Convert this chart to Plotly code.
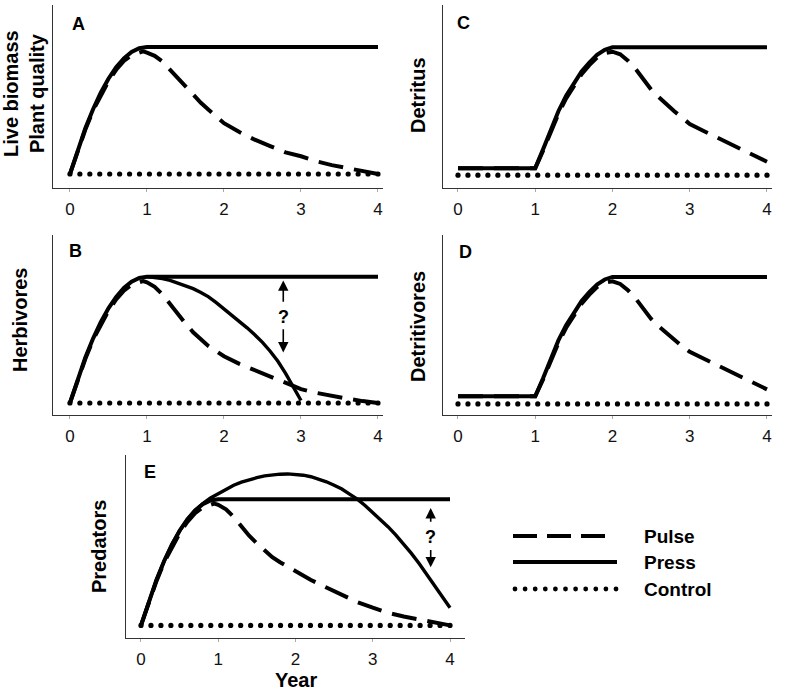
import numpy as np
import plotly.graph_objects as go

W, H = 787, 693
FONT = "Arial, 'Liberation Sans', Helvetica, sans-serif"

# ---------------- data ----------------
rise_years = [0, 0.1, 0.2, 0.3, 0.4, 0.5, 0.6, 0.7, 0.8, 0.9, 1.0]

# Panel A: Live biomass / Plant quality
a_press_years = rise_years + [4.0]
a_press_vals = [0, 0.19, 0.36, 0.51, 0.64, 0.75, 0.84, 0.91, 0.96, 0.99, 1.0, 1.0]
a_pulse_years = [0, 0.1, 0.2, 0.3, 0.4, 0.5, 0.6, 0.7, 0.8, 0.9, 0.95, 1.0, 1.1, 1.2, 1.3, 1.4, 1.5,
                 1.6, 1.7, 1.8, 1.9, 2.0, 2.2, 2.4, 2.6, 2.8, 3.0, 3.2, 3.4, 3.6, 3.8, 4.0]
a_pulse_vals = [0, 0.18, 0.35, 0.5, 0.62, 0.73, 0.82, 0.89, 0.935, 0.96, 0.965, 0.955, 0.93, 0.885,
                0.82, 0.75, 0.68, 0.62, 0.56, 0.505, 0.45, 0.40, 0.33, 0.27, 0.22, 0.17, 0.14, 0.10,
                0.07, 0.045, 0.02, 0.0]

# Panel B: Herbivores
b_press_years = a_press_years
b_press_vals = a_press_vals
b_pulse_years = a_pulse_years
b_pulse_vals = [0, 0.18, 0.35, 0.5, 0.62, 0.73, 0.82, 0.89, 0.935, 0.96, 0.965, 0.955, 0.92, 0.86,
                0.78, 0.70, 0.63, 0.56, 0.50, 0.45, 0.41, 0.37, 0.31, 0.26, 0.21, 0.16, 0.11, 0.08,
                0.055, 0.035, 0.015, 0.0]
b_alt_years = [1.0, 1.1, 1.2, 1.3, 1.4, 1.5, 1.6, 1.7, 1.8, 1.9, 2.0, 2.1, 2.2, 2.3, 2.4, 2.5,
               2.6, 2.7, 2.8, 2.9, 3.0]
b_alt_vals = [1.0, 0.995, 0.985, 0.97, 0.95, 0.93, 0.905, 0.875, 0.84, 0.795, 0.745, 0.70, 0.65,
              0.595, 0.54, 0.48, 0.41, 0.33, 0.235, 0.13, 0.02]

# Panel C: Detritus
c_press_years = [0, 1.0, 1.1, 1.2, 1.3, 1.4, 1.5, 1.6, 1.7, 1.8, 1.9, 2.0, 4.0]
c_press_vals = [0.055, 0.055, 0.2, 0.36, 0.5, 0.62, 0.72, 0.81, 0.88, 0.94, 0.98, 1.0, 1.0]
c_pulse_years = [0, 1.0, 1.1, 1.2, 1.3, 1.4, 1.5, 1.6, 1.7, 1.8, 1.9, 2.0, 2.1, 2.2, 2.3, 2.4,
                 2.5, 2.6, 2.7, 2.8, 2.9, 3.0, 3.2, 3.4, 3.6, 3.8, 4.0]
c_pulse_vals = [0.055, 0.055, 0.19, 0.34, 0.48, 0.6, 0.7, 0.79, 0.86, 0.92, 0.955, 0.965, 0.945,
                0.895, 0.83, 0.75, 0.67, 0.61, 0.55, 0.50, 0.45, 0.40, 0.34, 0.28, 0.22, 0.16, 0.105]

# Panel D: Detritivores
d_press_years = c_press_years
d_press_vals = [0.06, 0.06, 0.2, 0.36, 0.5, 0.62, 0.72, 0.81, 0.88, 0.94, 0.98, 1.0, 1.0]
d_pulse_years = c_pulse_years
d_pulse_vals = [0.06, 0.06, 0.19, 0.34, 0.48, 0.6, 0.7, 0.79, 0.86, 0.92, 0.955, 0.965, 0.945,
                0.895, 0.83, 0.75, 0.67, 0.61, 0.555, 0.505, 0.455, 0.41, 0.35, 0.29, 0.23, 0.17, 0.115]

# Panel E: Predators
e_press_years = a_press_years
e_press_vals = a_press_vals
e_pulse_years = a_pulse_years
e_pulse_vals = [0, 0.18, 0.35, 0.5, 0.62, 0.73, 0.82, 0.89, 0.935, 0.96, 0.965, 0.955, 0.92, 0.86,
                0.78, 0.71, 0.65, 0.59, 0.54, 0.50, 0.465, 0.43, 0.36, 0.30, 0.24, 0.185, 0.14, 0.10,
                0.07, 0.045, 0.02, 0.0]
e_alt_years = [0, 0.1, 0.2, 0.3, 0.4, 0.5, 0.6, 0.7, 0.8, 0.9, 1.0, 1.1, 1.2, 1.3, 1.4, 1.5, 1.6,
               1.7, 1.8, 1.9, 2.0, 2.1, 2.2, 2.3, 2.4, 2.5, 2.6, 2.7, 2.8, 2.9, 3.0, 3.1, 3.2,
               3.3, 3.4, 3.5, 3.6, 3.7, 3.8, 3.9, 4.0]
e_alt_vals = [0, 0.19, 0.36, 0.51, 0.64, 0.75, 0.84, 0.91, 0.965, 1.01, 1.045, 1.08, 1.11, 1.135,
              1.155, 1.17, 1.185, 1.193, 1.198, 1.20, 1.198, 1.19, 1.178, 1.16, 1.138, 1.11, 1.08,
              1.04, 1.0, 0.95, 0.895, 0.84, 0.78, 0.715, 0.645, 0.57, 0.49, 0.405, 0.32, 0.23, 0.14]

# Control (unchanged baseline)
control_years = [0, 4]
control_vals = [0, 0]

tick_years = [0, 1, 2, 3, 4]
tick_labels = ["0", "1", "2", "3", "4"]

panel_letters = ["A", "C", "B", "D", "E"]
panel_titles = ["Live biomass<br>Plant quality", "Detritus", "Herbivores", "Detritivores", "Predators"]
legend_names = ["Pulse", "Press", "Control"]

# ---------------- layout geometry (pixels) ----------------
panels = [
    dict(px=(53, 383), py=(5, 188), xr=(-0.22, 4.065), yr=(-0.11, 1.33)),    # A
    dict(px=(443, 772), py=(5, 188), xr=(-0.194, 4.065), yr=(-0.10, 1.33)),  # C
    dict(px=(53, 383), py=(235, 415), xr=(-0.22, 4.065), yr=(-0.095, 1.33)), # B
    dict(px=(443, 772), py=(235, 415), xr=(-0.194, 4.065), yr=(-0.087, 1.33)),  # D
    dict(px=(126, 465), py=(455, 638), xr=(-0.194, 4.194), yr=(-0.10, 1.35)),   # E
]

series = [
    (a_press_years, a_press_vals, a_pulse_years, a_pulse_vals, None, None),
    (c_press_years, c_press_vals, c_pulse_years, c_pulse_vals, None, None),
    (b_press_years, b_press_vals, b_pulse_years, b_pulse_vals, b_alt_years, b_alt_vals),
    (d_press_years, d_press_vals, d_pulse_years, d_pulse_vals, None, None),
    (e_press_years, e_press_vals, e_pulse_years, e_pulse_vals, e_alt_years, e_alt_vals),
]

DASH = "25px,11px"
LW = 4

fig = go.Figure()
layout = dict(
    width=W, height=H, autosize=False,
    margin=dict(l=0, r=0, t=0, b=0),
    paper_bgcolor="white", plot_bgcolor="white",
    showlegend=False,
    font=dict(family=FONT, color="black"),
)
annotations = []
shapes = []

n_dots = 32
for i, (p, s) in enumerate(zip(panels, series)):
    k = "" if i == 0 else str(i + 1)
    xa, ya = "x" + k, "y" + k
    (l, r), (t, b) = p["px"], p["py"]
    layout["xaxis" + k] = dict(
        domain=[l / W, r / W], anchor=ya, range=list(p["xr"]),
        showline=True, linecolor="#333", linewidth=1, mirror=False,
        showgrid=False, zeroline=False,
        tickmode="array", tickvals=tick_years, ticktext=tick_labels,
        ticks="outside", ticklen=3, tickcolor="#aaa", tickwidth=1,
        tickfont=dict(size=17, family=FONT, color="#111"),
        ticklabelstandoff=3, fixedrange=True,
    )
    layout["yaxis" + k] = dict(
        domain=[1 - b / H, 1 - t / H], anchor=xa, range=list(p["yr"]),
        showline=True, linecolor="#333", linewidth=1,
        showgrid=False, zeroline=False, showticklabels=False, ticks="",
        fixedrange=True,
    )
    pry, prv, puy, puv, aly, alv = s
    # control dots
    cx = np.linspace(control_years[0], control_years[-1], n_dots)
    cy = np.interp(cx, control_years, control_vals)
    fig.add_trace(go.Scatter(x=cx, y=cy, mode="markers", xaxis=xa, yaxis=ya,
                             marker=dict(size=5.2, color="black"), hoverinfo="skip"))
    fig.add_trace(go.Scatter(x=puy, y=puv, mode="lines", xaxis=xa, yaxis=ya,
                             line=dict(color="black", width=LW, dash=DASH),
                             hoverinfo="skip"))
    fig.add_trace(go.Scatter(x=pry, y=prv, mode="lines", xaxis=xa, yaxis=ya,
                             line=dict(color="black", width=LW),
                             hoverinfo="skip"))
    if aly is not None:
        fig.add_trace(go.Scatter(x=aly, y=alv, mode="lines", xaxis=xa, yaxis=ya,
                                 line=dict(color="black", width=3.4),
                                 hoverinfo="skip"))

# panel letters
letter_pos = [(78, 24), (463, 23), (75, 251), (465, 252), (150, 472)]
for letter, (x, y) in zip(panel_letters, letter_pos):
    annotations.append(dict(text="<b>%s</b>" % letter, x=x / W, y=1 - y / H, xref="paper", yref="paper",
                            showarrow=False, xanchor="center", yanchor="middle",
                            font=dict(size=18, family=FONT, color="black")))

# y-axis titles
title_pos = [(24, 94), (418, 95), (20, 320), (418, 326), (99, 547)]
for title, (x, y) in zip(panel_titles, title_pos):
    annotations.append(dict(text="<b>%s</b>" % title, x=x / W, y=1 - y / H, xref="paper", yref="paper",
                            showarrow=False, textangle=-90, xanchor="center", yanchor="middle",
                            font=dict(size=20, family=FONT, color="black")))

# x title
annotations.append(dict(text="<b>Year</b>", x=296 / W, y=1 - 680 / H, xref="paper", yref="paper",
                        showarrow=False, xanchor="center", yanchor="middle",
                        font=dict(size=20, family=FONT, color="black")))

# question-mark arrows (B and E)
q_marks = [
    ("x3", "y3", 2.77, (0.97, 0.79), 0.68, (0.595, 0.40)),
    ("x5", "y5", 3.75, (0.93, 0.81), 0.70, (0.61, 0.46)),
]
for xa, ya, xq, (up_head, up_tail), yq, (dn_tail, dn_head) in q_marks:
    annotations.append(dict(x=xq, y=up_head, ax=xq, ay=up_tail, xref=xa, yref=ya, axref=xa, ayref=ya,
                            text="", showarrow=True, arrowhead=2, arrowsize=1.3, arrowwidth=1.6,
                            arrowcolor="black"))
    annotations.append(dict(x=xq, y=dn_head, ax=xq, ay=dn_tail, xref=xa, yref=ya, axref=xa, ayref=ya,
                            text="", showarrow=True, arrowhead=2, arrowsize=1.3, arrowwidth=1.6,
                            arrowcolor="black"))
    annotations.append(dict(x=xq, y=yq, xref=xa, yref=ya, text="<b>?</b>", showarrow=False,
                            xanchor="center", yanchor="middle",
                            font=dict(size=18, family=FONT, color="black")))

# legend (drawn by hand to get long line samples)
leg_y = [536, 562, 589]
shapes.append(dict(type="line", xref="paper", yref="paper", x0=513 / W, x1=605 / W,
                   y0=1 - leg_y[0] / H, y1=1 - leg_y[0] / H,
                   line=dict(color="black", width=LW, dash="24px,10px")))
shapes.append(dict(type="line", xref="paper", yref="paper", x0=513 / W, x1=617 / W,
                   y0=1 - leg_y[1] / H, y1=1 - leg_y[1] / H,
                   line=dict(color="black", width=LW)))
for j in range(11):
    cxp = 515 + 10.1 * j
    shapes.append(dict(type="circle", xref="paper", yref="paper",
                       x0=(cxp - 2.4) / W, x1=(cxp + 2.4) / W,
                       y0=1 - (leg_y[2] + 2.4) / H, y1=1 - (leg_y[2] - 2.4) / H,
                       fillcolor="black", line=dict(width=0)))
for name, y in zip(legend_names, leg_y):
    annotations.append(dict(text="<b>%s</b>" % name, x=642 / W, y=1 - y / H, xref="paper", yref="paper",
                            showarrow=False, xanchor="left", yanchor="middle",
                            font=dict(size=19, family=FONT, color="black")))

layout["annotations"] = annotations
layout["shapes"] = shapes
fig.update_layout(**layout)
fig.write_html("out.html", config={"displayModeBar": False, "staticPlot": True},
               post_script="document.body.style.margin='0';document.body.style.padding='0';")
